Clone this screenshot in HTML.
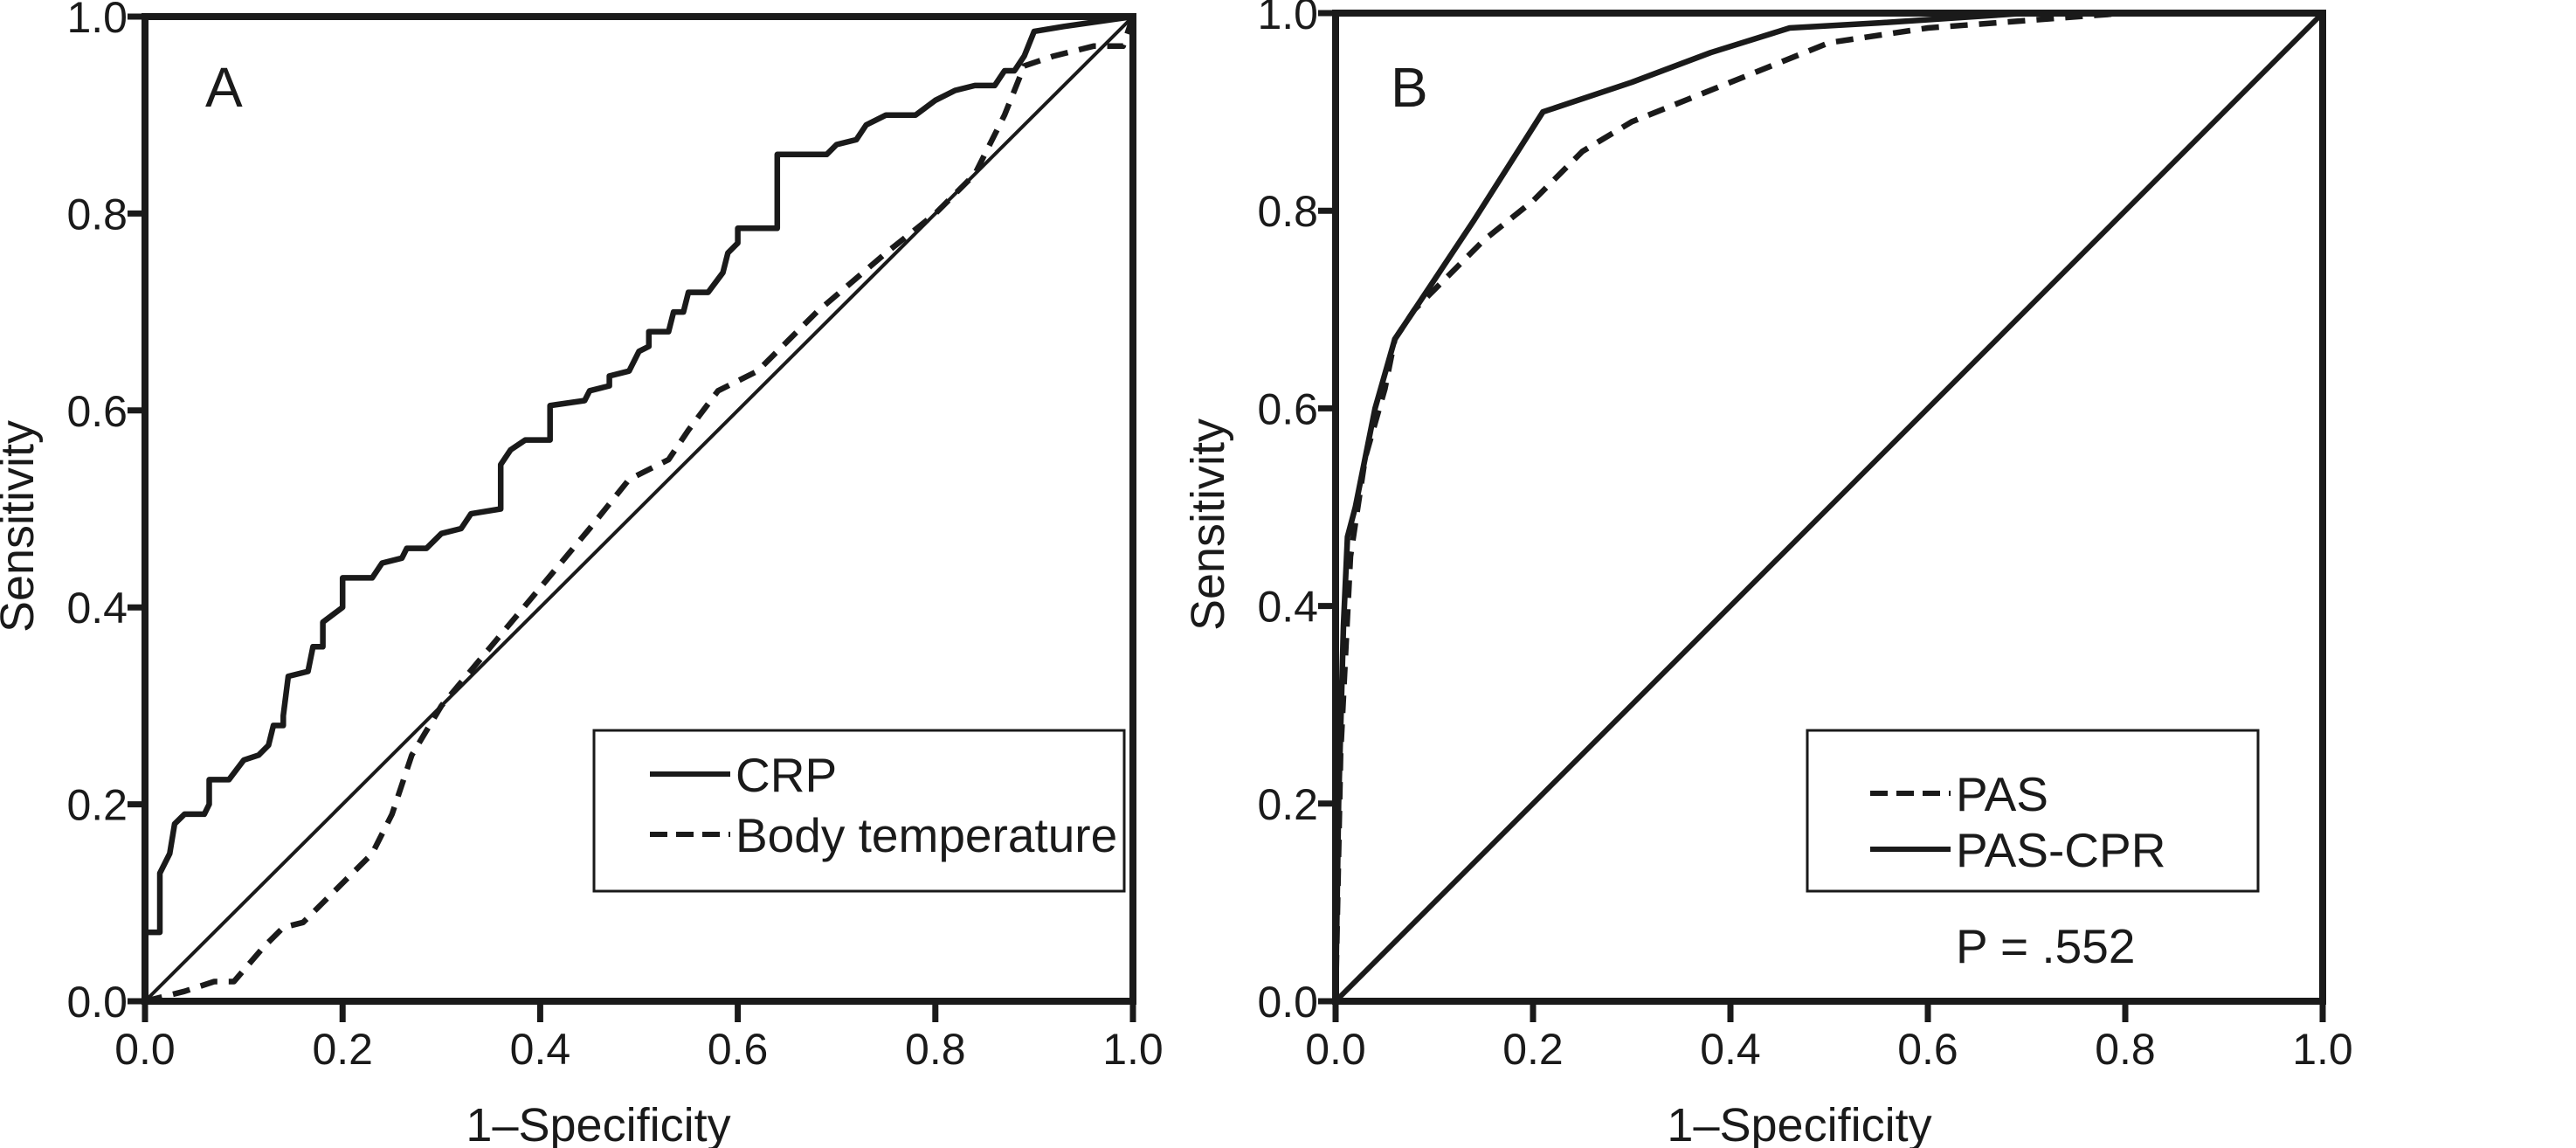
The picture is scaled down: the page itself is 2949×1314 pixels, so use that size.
<!DOCTYPE html>
<html><head><meta charset="utf-8"><style>
body{margin:0;background:#fff}
svg{display:block}
text{font-family:"Liberation Sans",Arial,sans-serif;fill:#1a1a1a}
</style></head><body>
<svg id="chart" width="2949" height="1314" viewBox="0 0 2949 1314" xmlns="http://www.w3.org/2000/svg"></svg>
<script>
const ticks = [0, 0.2, 0.4, 0.6, 0.8, 1.0];
const tickLabels = ["0.0","0.2","0.4","0.6","0.8","1.0"];
const crpX = [0,0,0.015,0.015,0.025,0.03,0.04,0.06,0.065,0.065,0.085,0.1,0.115,0.125,0.13,0.14,0.14,0.145,0.165,0.17,0.18,0.18,0.2,0.2,0.23,0.24,0.26,0.265,0.285,0.3,0.32,0.33,0.36,0.36,0.37,0.385,0.41,0.41,0.445,0.45,0.47,0.47,0.49,0.5,0.51,0.51,0.53,0.535,0.545,0.55,0.57,0.585,0.59,0.6,0.6,0.64,0.64,0.69,0.7,0.72,0.73,0.75,0.78,0.8,0.82,0.84,0.86,0.87,0.88,0.89,0.9,0.93,1];
const crpY = [0,0.07,0.07,0.13,0.15,0.18,0.19,0.19,0.2,0.225,0.225,0.245,0.25,0.26,0.28,0.28,0.29,0.33,0.335,0.36,0.36,0.385,0.4,0.43,0.43,0.445,0.45,0.46,0.46,0.475,0.48,0.495,0.5,0.545,0.56,0.57,0.57,0.605,0.61,0.62,0.625,0.635,0.64,0.66,0.665,0.68,0.68,0.7,0.7,0.72,0.72,0.74,0.76,0.77,0.785,0.785,0.86,0.86,0.87,0.875,0.89,0.9,0.9,0.915,0.925,0.93,0.93,0.945,0.945,0.96,0.985,0.99,1];
const tempX = [0,0.04,0.07,0.09,0.12,0.14,0.16,0.19,0.23,0.25,0.27,0.3,0.35,0.4,0.45,0.49,0.53,0.55,0.58,0.62,0.68,0.75,0.8,0.84,0.87,0.89,0.92,0.96,0.99,1];
const tempY = [0,0.01,0.02,0.02,0.055,0.075,0.08,0.11,0.15,0.19,0.25,0.3,0.36,0.42,0.48,0.53,0.55,0.58,0.62,0.64,0.7,0.76,0.8,0.84,0.9,0.95,0.96,0.97,0.97,1];
const pascprX = [0,0.003,0.008,0.012,0.02,0.03,0.04,0.06,0.08,0.1,0.14,0.21,0.3,0.38,0.46,0.55,0.7,1];
const pascprY = [0,0.2,0.38,0.47,0.5,0.55,0.6,0.67,0.7,0.73,0.79,0.9,0.93,0.96,0.985,0.99,1,1];
const pasX = [0,0.005,0.01,0.015,0.03,0.05,0.06,0.08,0.1,0.15,0.2,0.25,0.3,0.4,0.5,0.6,0.8,1];
const pasY = [0,0.25,0.35,0.45,0.55,0.62,0.67,0.7,0.72,0.77,0.81,0.86,0.89,0.93,0.97,0.985,1,1];

const NS="http://www.w3.org/2000/svg";
const svg=document.getElementById('chart');
function mk(tag,attrs,parent){const e=document.createElementNS(NS,tag);for(const k in attrs)e.setAttribute(k,attrs[k]);(parent||svg).appendChild(e);return e;}

function panel(id,x0,x1,y0,y1,letter,series,legend,pText,titleX,diagW){
  const g=mk('g',{});
  
  
  const sx=v=>x0+v*(x1-x0), sy=v=>y0-v*(y0-y1);
  const d=mk('line',{x1:sx(0),y1:sy(0),x2:sx(1),y2:sy(1),stroke:'#1a1a1a','stroke-width':diagW},g);
  
  
  series.forEach(s=>{
    const pts=s.x.map((v,i)=>sx(v).toFixed(1)+','+sy(s.y[i]).toFixed(1)).join(' ');
    const p=mk('polyline',{points:pts,fill:'none',stroke:'#1a1a1a','stroke-width':6.5,'stroke-linejoin':'round','stroke-dasharray':s.dash?'20 13':'none'},g);
    
    
  });
  const fr=mk('rect',{x:x0,y:y1,width:x1-x0,height:y0-y1,fill:'none',stroke:'#1a1a1a','stroke-width':8},g);
  
  
  ticks.forEach((t,i)=>{
    const tx=mk('line',{x1:sx(t),y1:y0,x2:sx(t),y2:y0+24,stroke:'#1a1a1a','stroke-width':7},g);
    
    
    const lx=mk('text',{x:sx(t),y:y0+72,'font-size':50,'text-anchor':'middle'},g);
    lx.textContent=tickLabels[i];
    
    
    const ty=mk('line',{x1:x0-20,y1:sy(t),x2:x0,y2:sy(t),stroke:'#1a1a1a','stroke-width':7},g);
    
    
    const ly=mk('text',{x:x0-20,y:sy(t)+18,'font-size':50,'text-anchor':'end'},g);
    ly.textContent=tickLabels[i];
    
    
  });
  const xt=mk('text',{x:titleX,y:1306,'font-size':54,'text-anchor':'middle'},g);
  xt.textContent='1–Specificity';
  
  
  const cy=(y0+y1)/2+20;
  const yt=mk('text',{x:x0-128,y:cy,'font-size':54,'text-anchor':'middle',transform:'rotate(-90 '+(x0-128)+' '+cy+')'},g);
  yt.textContent='Sensitivity';
  
  
  const lt=mk('text',{x:letter[0],y:122,'font-size':64},g);
  lt.textContent=letter[1];
  
  
  const lb=mk('rect',{x:legend.x,y:836,width:legend.w,height:184,fill:'#fff',stroke:'#1a1a1a','stroke-width':3},g);
  
  
  legend.items.forEach(it=>{
    const l=mk('line',{x1:it.lx,y1:it.y,x2:it.lx+92,y2:it.y,stroke:'#1a1a1a','stroke-width':6,'stroke-dasharray':it.dash?'20 10':'none'},g);
    
    
    const t=mk('text',{x:it.lx+98,y:it.y+20,'font-size':55},g);
    t.textContent=it.label;
    
    
  });
  if(pText){
    const p=mk('text',{x:2239,y:1102,'font-size':55},g);
    p.textContent=pText;
    
    
  }
}
panel('a',166,1297,1146,19,[235,'A'],
  [{x:crpX,y:crpY,name:'crp',dash:false},{x:tempX,y:tempY,name:'body-temperature',dash:true}],
  {x:680,w:607,items:[{lx:744,y:886,label:'CRP',dash:false},{lx:744,y:955,label:'Body temperature',dash:true}]},null,685,4);
panel('b',1529,2659,1146,15,[1592,'B'],
  [{x:pasX,y:pasY,name:'pas',dash:true},{x:pascprX,y:pascprY,name:'pas-cpr',dash:false}],
  {x:2069,w:516,items:[{lx:2141,y:908,label:'PAS',dash:true},{lx:2141,y:972,label:'PAS-CPR',dash:false}]},'P = .552',2060,6);
</script>
</body></html>
